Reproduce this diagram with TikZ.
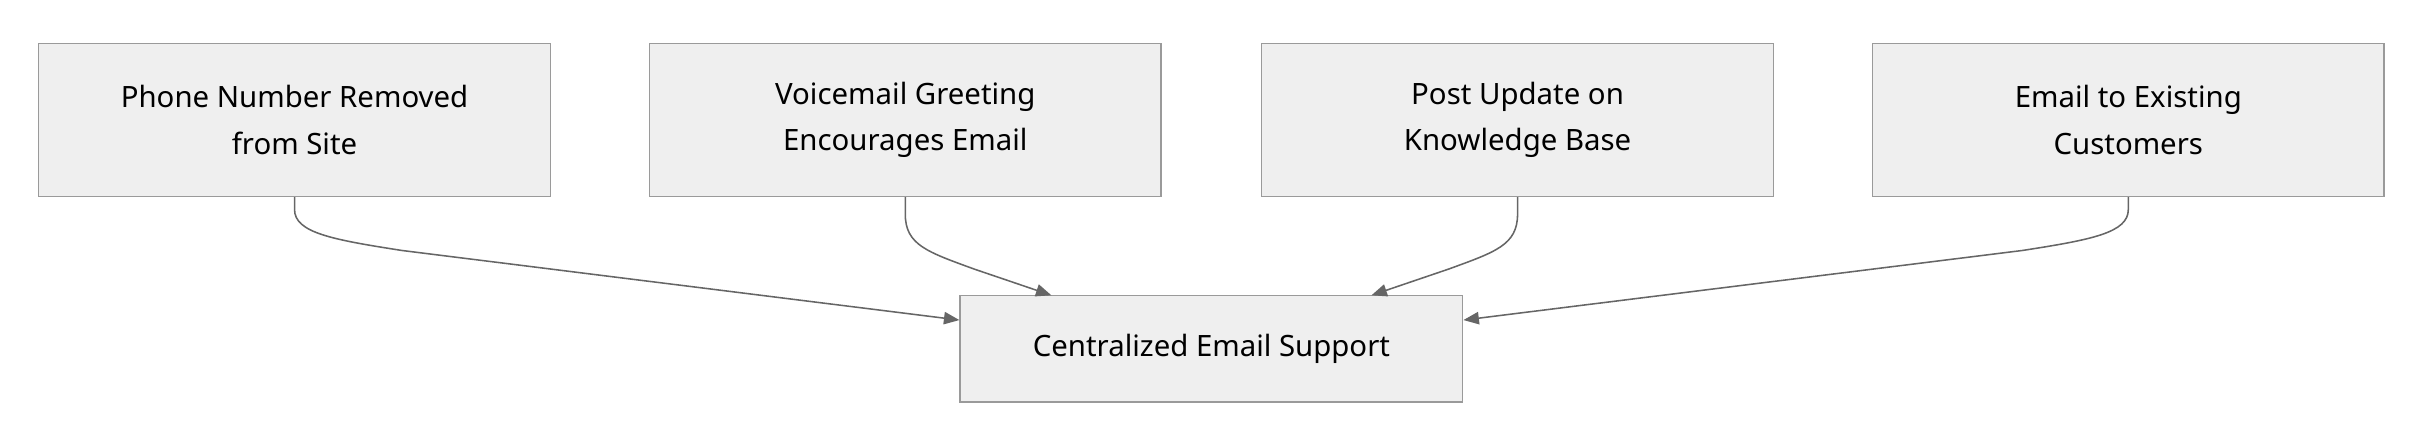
\documentclass[tikz,border=0pt]{standalone}
\usepackage{fontspec}
\setmainfont{Noto Sans}
\usetikzlibrary{arrows.meta}
\definecolor{boxfill}{HTML}{EFEFEF}
\definecolor{boxline}{HTML}{9A9A9A}
\definecolor{arr}{HTML}{666666}
\begin{document}
\begin{tikzpicture}[x=1pt,y=-1pt,
  box/.style={draw=boxline,fill=boxfill,line width=1pt,minimum width=331pt,minimum height=99pt,align=center,font=\fontsize{19}{30}\selectfont,inner sep=0pt},
  conn/.style={draw=arr,line width=1pt,-{Triangle[length=10pt,width=8pt]}}]
\useasboundingbox (0,0) rectangle (1560,287);
\node[box] (a) at (190.5,77.5) {Phone Number Removed\\from Site};
\node[box] (b) at (585.5,77.5) {Voicemail Greeting\\Encourages Email};
\node[box] (c) at (981.5,77.5) {Post Update on\\Knowledge Base};
\node[box] (d) at (1376.5,77.5) {Email to Existing\\Customers};
\node[box,minimum width=325pt,minimum height=69pt] (e) at (783.5,225.5) {Centralized Email Support};
\path[conn] (a.south) -- ++(0,8) .. controls +(0,15) and (215,155) .. (260,162) -- (e.west |- 0,207);
\path[conn] (b.south) -- ++(0,11) .. controls +(0,20) and (600,163) .. (630,174) -- (680,191);
\path[conn] (c.south) -- ++(0,11) .. controls +(0,20) and (967,163) .. (937,174) -- (887,191);
\path[conn] (d.south) -- ++(0,8) .. controls +(0,15) and (1353,155) .. (1308,162) -- (e.east |- 0,207);
\end{tikzpicture}
\end{document}
